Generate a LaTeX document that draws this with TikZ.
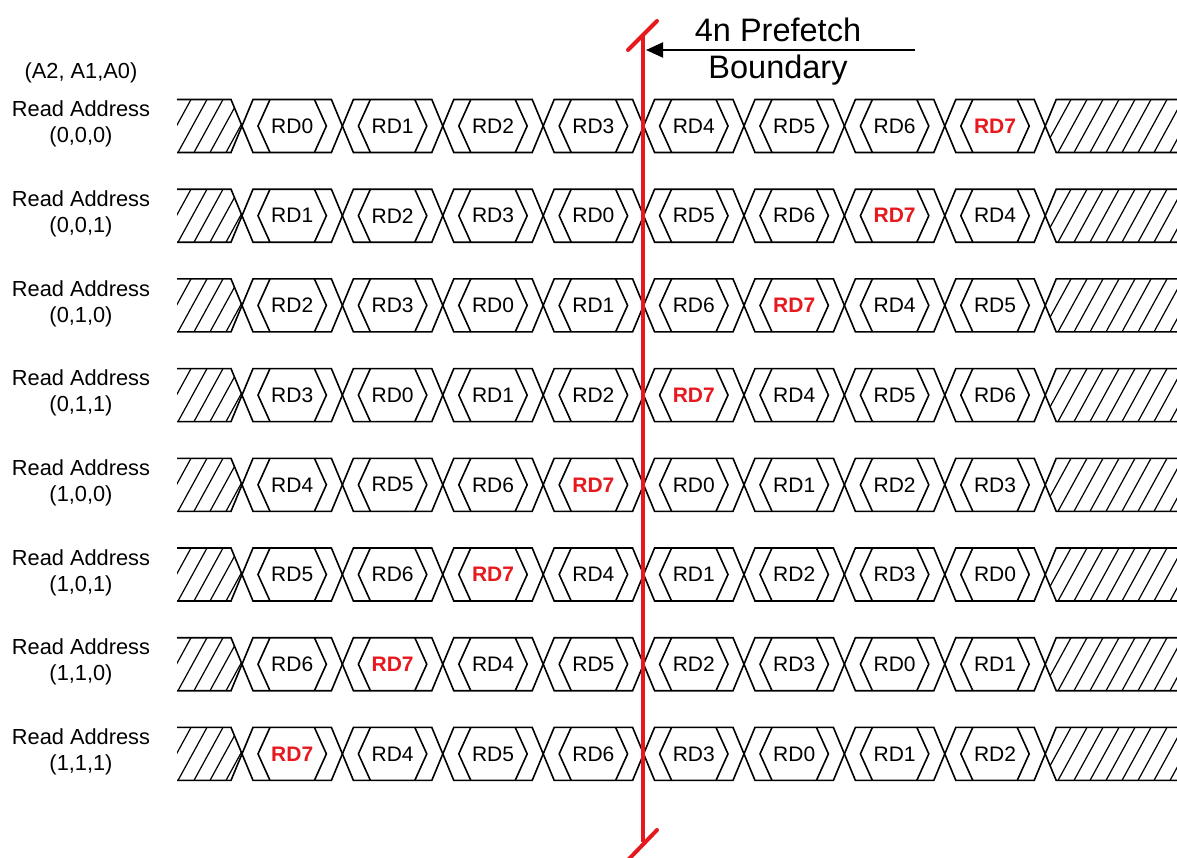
\documentclass[tikz,border=0pt]{standalone}
\usepackage{fontspec}
\setmainfont{Liberation Sans}
\usetikzlibrary{arrows.meta}
\definecolor{bred}{RGB}{230,25,30}
\begin{document}
\begin{tikzpicture}[x=1pt,y=-1pt,
  wave/.style={line width=1.6pt, line join=miter},
  hatch/.style={line width=1.2pt},
  cell/.style={font=\fontsize{21}{21}\selectfont, inner sep=0pt},
  hot/.style={inner sep=0pt, text=bred, font=\fontsize{21}{21}\selectfont\bfseries},
  lbl/.style={align=center, font=\fontsize{21.8}{26}\selectfont, inner sep=0pt},
  bound/.style={draw=bred, line width=4pt},
  title/.style={font=\fontsize{32.5}{32.5}\selectfont, inner sep=0pt},
  ]
\useasboundingbox (0,0) rectangle (1177,857);
\def\hw{11}
\node[lbl] (hdr) at (81,73) {(A2, A1,A0)};
\foreach \seq [count=\r from 0] in {{0,1,2,3,4,5,6,7},{1,2,3,0,5,6,7,4},{2,3,0,1,6,7,4,5},{3,0,1,2,7,4,5,6},{4,5,6,7,0,1,2,3},{5,6,7,4,1,2,3,0},{6,7,4,5,2,3,0,1},{7,4,5,6,3,0,1,2}} {
  \pgfmathsetmacro\m{126+89.7*\r}
  \pgfmathsetmacro\t{\m-26.5}
  \pgfmathsetmacro\b{\m+26.5}
  \pgfmathtruncatemacro\aa{int(\r/4)}
  \pgfmathtruncatemacro\ab{mod(int(\r/2),2)}
  \pgfmathtruncatemacro\ac{mod(\r,2)}
  \node[lbl] (lab\r) at (81,\m-2) {Read Address\\(\aa,\ab,\ac)};
  % left hatched
  \begin{scope}
    \clip (177,\t) -- (242-\hw,\t) -- (242,\m) -- (242-\hw,\b) -- (177,\b) -- cycle;
    \foreach \x in {130,146,...,260} \draw[hatch] (\x,\b) -- ++(29,-53);
  \end{scope}
  \draw[wave] (177,\t) -- (242-\hw,\t) -- (242,\m) -- (242-\hw,\b) -- (177,\b);
  % right hatched
  \pgfmathsetmacro\ce{242+100.4*8}
  \begin{scope}
    \clip (1180,\t) -- (\ce+\hw,\t) -- (\ce,\m) -- (\ce+\hw,\b) -- (1180,\b) -- cycle;
    \foreach \x in {1010,1026,...,1190} \draw[hatch] (\x,\b) -- ++(29,-53);
  \end{scope}
  \draw[wave] (1180,\t) -- (\ce+\hw,\t) -- (\ce,\m) -- (\ce+\hw,\b) -- (1180,\b);
  % data cells
  \foreach \v [count=\k from 0] in \seq {
    \pgfmathsetmacro\ca{242+100.4*\k}
    \pgfmathsetmacro\cb{242+100.4*(\k+1)}
    \draw[wave] (\ca,\m) -- (\ca+\hw,\t) -- (\cb-\hw,\t) -- (\cb,\m) -- (\cb-\hw,\b) -- (\ca+\hw,\b) -- cycle;
    \draw[wave] (\ca+28,\t) -- (\ca+16,\m) -- (\ca+28,\b);
    \draw[wave] (\cb-28,\t) -- (\cb-16,\m) -- (\cb-28,\b);
    \ifnum\v=7
      \node[hot] (d\r-\k) at ({(\ca+\cb)/2},\m) {RD\v};
    \else
      \node[cell] (d\r-\k) at ({(\ca+\cb)/2},\m) {RD\v};
    \fi
  }
}
% prefetch boundary
\coordinate (bt) at (643,36);
\coordinate (bb) at (643,842);
\coordinate (st1) at (628,50);
\coordinate (st2) at (657,21);
\coordinate (sb1) at (628,860);
\coordinate (sb2) at (657,830);
\draw[bound] (bt) -- (bb);
\draw[bound, line cap=round] (st1) -- (st2);
\draw[bound, line cap=round] (sb1) -- (sb2);
\node[title] (pf) at (778,30) {4n Prefetch};
\node[title] (bd) at (778,70) {Boundary};
\coordinate (as) at (915,50);
\coordinate (ae) at (646,50);
\draw[line width=2pt, -{Triangle[length=17pt,width=15pt]}] (as) -- (ae);
\end{tikzpicture}
\end{document}
